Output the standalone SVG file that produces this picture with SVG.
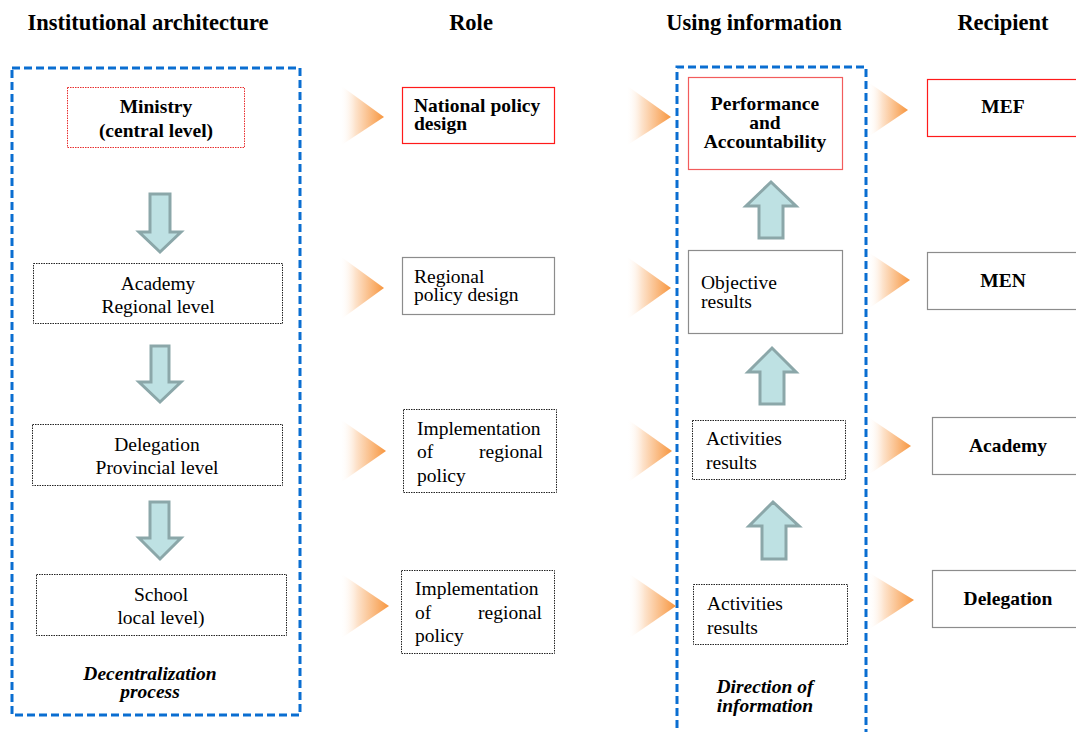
<svg xmlns="http://www.w3.org/2000/svg" width="1076" height="732" viewBox="0 0 1076 732">
  <defs>
    <linearGradient id="fade" x1="0" y1="0" x2="1" y2="0">
      <stop offset="0" stop-color="#FFFFFF" stop-opacity="0"/>
      <stop offset="0.35" stop-color="#FDE3CC"/>
      <stop offset="1" stop-color="#F7963F"/>
    </linearGradient>
    <style>
      text { font-family: "Liberation Serif", "Times New Roman", serif; font-size: 19.5px; fill: #000; }
      .hdr { font-size: 22.5px; font-weight: bold; text-anchor: middle; }
      .b { font-weight: bold; }
      .c { text-anchor: middle; }
      .e { text-anchor: end; }
      .bi { font-weight: bold; font-style: italic; text-anchor: middle; }
      .frame { fill: none; stroke: #0A6ED1; stroke-width: 3; stroke-dasharray: 8 4; }
      .red { fill: #fff; stroke: #FF1A1A; stroke-width: 1.2; }
      .redlite { fill: #fff; stroke: #F25C5C; stroke-width: 1.2; }
      .reddot { fill: #fff; stroke: #E83030; stroke-width: 1; stroke-dasharray: 1.5 1; }
      .gray { fill: #fff; stroke: #8C8C8C; stroke-width: 1.2; }
      .dot { fill: #fff; stroke: #222; stroke-width: 1; stroke-dasharray: 1.5 1; }
      .blk { fill: #BEE1E3; stroke: #8BA7A9; stroke-width: 3; stroke-linejoin: miter; }
      .tri { fill: url(#fade); stroke: none; }
    </style>
  </defs>

  <rect width="1076" height="732" fill="#fff"/>

  <!-- column headings -->
  <text class="hdr" x="148" y="30">Institutional architecture</text>
  <text class="hdr" x="471" y="30">Role</text>
  <text class="hdr" x="754" y="30">Using information</text>
  <text class="hdr" x="1003" y="30">Recipient</text>

  <!-- dashed frames -->
  <rect class="frame" x="12" y="68" width="288" height="647"/>
  <path class="frame" d="M677,740 V67 H866 V740"/>

  <!-- connectors: block arrows and fading triangles -->
  <g id="connectors">
    <path class="blk" d="M152,194 H170 V232 H181 L160,252 L139,232 H150 V194 Z"/>
    <path class="blk" d="M151,346 H169 V382 H181 L160,402 L139,382 H151 Z"/>
    <path class="blk" d="M150,502 H169 V538 H181 L160,559 L139,538 H150 Z"/>

    <path class="blk" d="M759,238 V206 H746 L771,182 L796,206 H783 V238 Z"/>
    <path class="blk" d="M760,404 V372 H748 L772,348 L796,372 H784 V404 Z"/>
    <path class="blk" d="M762,559 V526 H749 L773,502 L799,526 H786 V559 Z"/>

    <polygon class="tri" points="340,85 384,117 340,146"/>
    <polygon class="tri" points="340,256 384,288 340,320"/>
    <polygon class="tri" points="340,419 386,451 340,483"/>
    <polygon class="tri" points="340,573 389,606 340,639"/>

    <polygon class="tri" points="626,85 671,117 626,146"/>
    <polygon class="tri" points="626,256 671,288 626,320"/>
    <polygon class="tri" points="627,419 672,451 627,483"/>
    <polygon class="tri" points="628,573 676,606 628,639"/>

    <polygon class="tri" points="868,82 908,110 868,137"/>
    <polygon class="tri" points="868,252 910,280 868,309"/>
    <polygon class="tri" points="868,417 911,446 868,475"/>
    <polygon class="tri" points="868,572 914,600 868,630"/>
  </g>

  <!-- institutional architecture -->
  <g id="ministry">
    <rect class="reddot" x="67.5" y="87.5" width="177" height="60"/>
    <text class="b c" x="156" y="113">Ministry</text>
    <text class="b c" x="156" y="137">(central level)</text>
  </g>
  <g id="academy-level">
    <rect class="dot" x="33.5" y="263.5" width="249" height="60"/>
    <text class="c" x="158" y="290">Academy</text>
    <text class="c" x="158" y="313">Regional level</text>
  </g>
  <g id="delegation-level">
    <rect class="dot" x="32.5" y="424.5" width="250" height="61"/>
    <text class="c" x="157" y="451">Delegation</text>
    <text class="c" x="157" y="474">Provincial level</text>
  </g>
  <g id="school-level">
    <rect class="dot" x="36.5" y="574.5" width="250" height="61"/>
    <text class="c" x="161" y="601">School</text>
    <text class="c" x="161" y="624">local level)</text>
  </g>
  <g id="decentralization-label">
    <text class="bi" x="150" y="680">Decentralization</text>
    <text class="bi" x="150" y="698">process</text>
  </g>

  <!-- roles -->
  <g id="national-policy">
    <rect class="red" x="402.5" y="87.5" width="152" height="56"/>
    <text class="b" x="414" y="112">National policy</text>
    <text class="b" x="414" y="130">design</text>
  </g>
  <g id="regional-policy">
    <rect class="gray" x="402.5" y="257.5" width="152" height="57"/>
    <text x="414" y="283">Regional</text>
    <text x="414" y="301">policy design</text>
  </g>
  <g id="implementation-1">
    <rect class="dot" x="403.5" y="409.5" width="153" height="83"/>
    <text x="417" y="435">Implementation</text>
    <text x="417" y="458">of</text>
    <text class="e" x="543" y="458">regional</text>
    <text x="417" y="482">policy</text>
  </g>
  <g id="implementation-2">
    <rect class="dot" x="401.5" y="570.5" width="153" height="83"/>
    <text x="415" y="595">Implementation</text>
    <text x="415" y="619">of</text>
    <text class="e" x="542" y="619">regional</text>
    <text x="415" y="642">policy</text>
  </g>

  <!-- using information -->
  <g id="performance">
    <rect class="redlite" x="688.5" y="77.5" width="154" height="92"/>
    <text class="b c" x="765" y="110">Performance</text>
    <text class="b c" x="765" y="129">and</text>
    <text class="b c" x="765" y="148">Accountability</text>
  </g>
  <g id="objective-results">
    <rect class="gray" x="688.5" y="250.5" width="154" height="83"/>
    <text x="701" y="289">Objective</text>
    <text x="701" y="308">results</text>
  </g>
  <g id="activities-1">
    <rect class="dot" x="692.5" y="420.5" width="153" height="59"/>
    <text x="706" y="445">Activities</text>
    <text x="706" y="469">results</text>
  </g>
  <g id="activities-2">
    <rect class="dot" x="693.5" y="584.5" width="154" height="60"/>
    <text x="707" y="610">Activities</text>
    <text x="707" y="634">results</text>
  </g>
  <g id="direction-label">
    <text class="bi" x="765" y="693">Direction of</text>
    <text class="bi" x="765" y="712">information</text>
  </g>

  <!-- recipients -->
  <g id="mef">
    <rect class="red" x="927.5" y="79.5" width="160" height="57"/>
    <text class="b c" x="1003" y="113">MEF</text>
  </g>
  <g id="men">
    <rect class="gray" x="927.5" y="252.5" width="160" height="57"/>
    <text class="b c" x="1003" y="287">MEN</text>
  </g>
  <g id="academy">
    <rect class="gray" x="932.5" y="417.5" width="160" height="57"/>
    <text class="b c" x="1008" y="452">Academy</text>
  </g>
  <g id="delegation">
    <rect class="gray" x="932.5" y="570.5" width="160" height="57"/>
    <text class="b c" x="1008" y="605">Delegation</text>
  </g>
</svg>
